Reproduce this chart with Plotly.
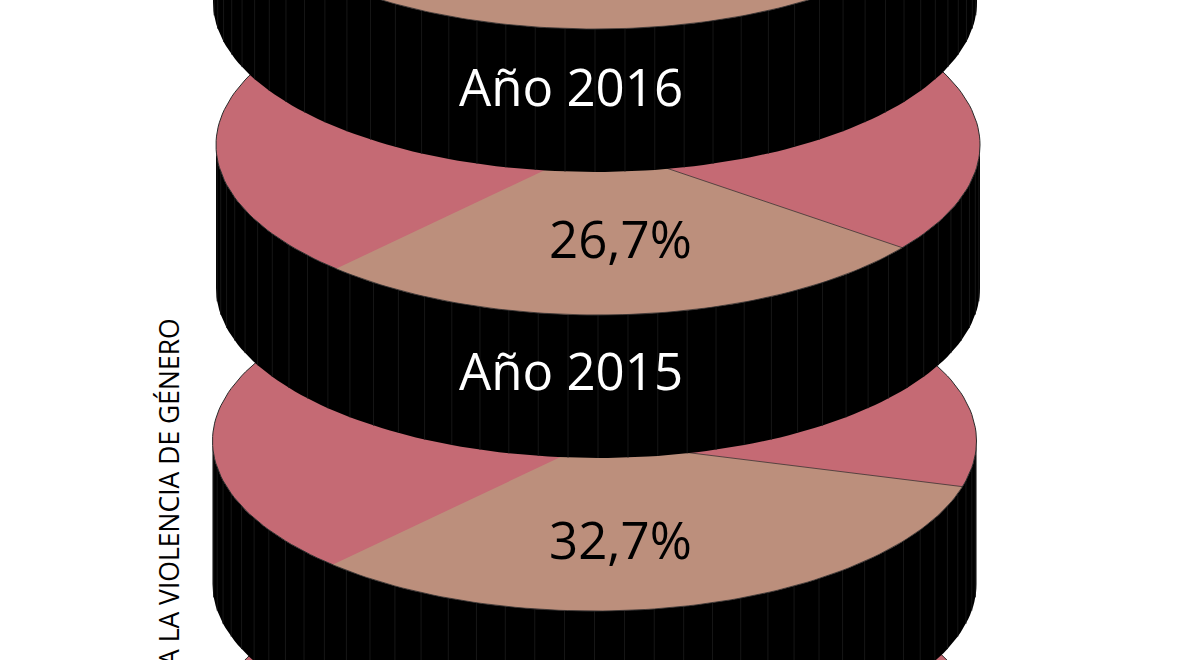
import numpy as np
import plotly.graph_objects as go

# values (2016 and 2013 wedges are off canvas, estimated)
years = ["2016", "2015", "2014", "2013"]
shares = [25.0, 26.7, 32.7, 25.0]
share_labels = ["", "26,7%", "32,7%", ""]
side_caption = "A LA VIOLENCIA DE GÉNERO"

PINK = "#C56A74"
TAN = "#BC8F7C"
OUTLINE = "#2a2a2a"
SEAM = "#161616"
FONT = "Open Sans"

# disc geometry, in canvas units
centers_x = [595, 598, 594.5, 596]
centers_y = [-141, 145, 441, 727]
year_label_y = [86, 370, 668, 960]
share_label_y = [0, 238, 539, 0]
RX, RY = 382, 170
DEPTH = 143
WEDGE_START = 133.3  # degrees, tan slice runs clockwise on screen from here
SEAM_STEP = 4.5


def ellipse(cx, cy, angles):
    t = np.radians(angles)
    return cx + RX * np.cos(t), cy + RY * np.sin(t)


def add_poly(fig, x, y, fill, line_color=None, line_width=0):
    fig.add_trace(go.Scatter(x=x, y=y, mode="lines", fill="toself", fillcolor=fill,
                             line=dict(color=line_color or fill, width=line_width),
                             hoverinfo="skip", showlegend=False))


def add_disc(fig, cx, cy, share):
    # black side wall
    lower = np.linspace(0, 180, 121)
    x0, y0 = ellipse(cx, cy, lower)
    x1, y1 = ellipse(cx, cy + DEPTH, lower)
    add_poly(fig, np.r_[x0, x1[::-1]], np.r_[y0, y1[::-1]], "#000000")

    # faint vertical joins in the wall
    seam_x, seam_y = [], []
    for a in np.arange(SEAM_STEP, 180, SEAM_STEP):
        sx, sy = ellipse(cx, cy, a)
        seam_x += [sx, sx, None]
        seam_y += [sy, sy + DEPTH, None]
    fig.add_trace(go.Scatter(x=seam_x, y=seam_y, mode="lines",
                             line=dict(color=SEAM, width=1),
                             hoverinfo="skip", showlegend=False))

    # top face
    top = np.linspace(0, 360, 241)
    ex, ey = ellipse(cx, cy, top)
    add_poly(fig, ex, ey, PINK, OUTLINE, 1)

    # tan slice
    end = WEDGE_START - share * 3.6
    arc = np.linspace(end, WEDGE_START, 91)
    ax, ay = ellipse(cx, cy, arc)
    add_poly(fig, np.r_[cx, ax, cx], np.r_[cy, ay, cy], TAN)
    fig.add_trace(go.Scatter(x=[cx, ax[0]], y=[cy, ay[0]], mode="lines",
                             line=dict(color=OUTLINE, width=0.7),
                             hoverinfo="skip", showlegend=False))
    fig.add_trace(go.Scatter(x=ax, y=ay, mode="lines",
                             line=dict(color=OUTLINE, width=0.7),
                             hoverinfo="skip", showlegend=False))


fig = go.Figure()

# lower discs first, each one sits under the one above
for i in range(len(years) - 1, -1, -1):
    add_disc(fig, centers_x[i], centers_y[i], shares[i])

for i, year in enumerate(years):
    fig.add_annotation(x=571, y=year_label_y[i], text="Año " + year, showarrow=False,
                       font=dict(family=FONT, size=51, color="#ffffff"))
    if share_labels[i]:
        fig.add_annotation(x=620, y=share_label_y[i], text=share_labels[i], showarrow=False,
                           font=dict(family=FONT, size=51, color="#000000"))

fig.add_annotation(x=169, y=316, yanchor="top", text=side_caption, textangle=-90,
                   showarrow=False, font=dict(family=FONT, size=26.5, color="#000000"))

fig.update_layout(
    width=1200,
    height=660,
    margin=dict(l=0, r=0, t=0, b=0),
    paper_bgcolor="#ffffff",
    plot_bgcolor="#ffffff",
    xaxis=dict(range=[0, 1200], visible=False, fixedrange=True),
    yaxis=dict(range=[660, 0], visible=False, fixedrange=True),
    showlegend=False,
)

fig.write_html("out.html", config={"displayModeBar": False},
               post_script="document.body.style.margin='0';")
